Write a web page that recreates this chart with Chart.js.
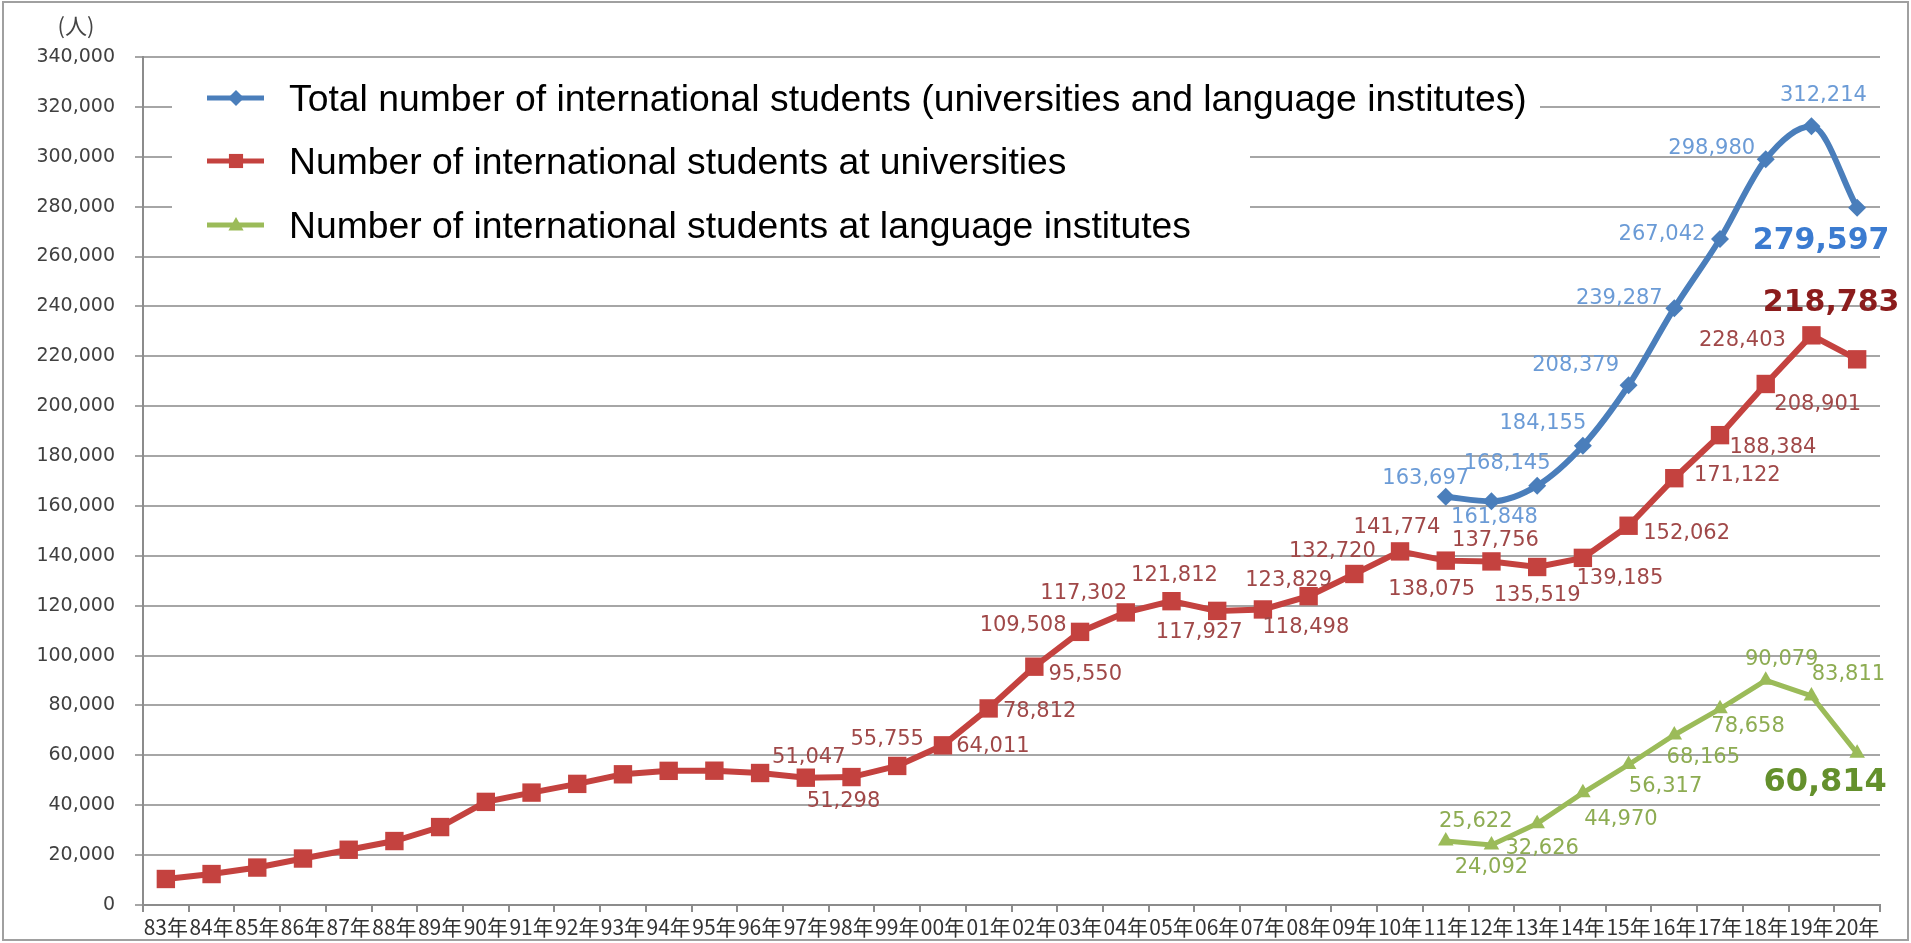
<!DOCTYPE html>
<html><head><meta charset="utf-8">
<script src="https://cdn.jsdelivr.net/npm/chart.js@4.4.0/dist/chart.umd.min.js"></script>
<style>html,body{margin:0;padding:0;background:#fff;overflow:hidden}#wrap{width:1911px;height:943px;position:relative}</style>
</head><body><div id="wrap"><canvas id="c"></canvas></div>
<script>
const categories = ['83年','84年','85年','86年','87年','88年','89年','90年','91年','92年','93年','94年','95年','96年','97年','98年','99年','00年','01年','02年','03年','04年','05年','06年','07年','08年','09年','10年','11年','12年','13年','14年','15年','16年','17年','18年','19年','20年'];
const universities = [10428,12410,15009,18631,22154,25643,31251,41347,45066,48561,52405,53787,53847,52921,51047,51298,55755,64011,78812,95550,109508,117302,121812,117927,118498,123829,132720,141774,138075,137756,135519,139185,152062,171122,188384,208901,228403,218783];
const totalStudents = [null,null,null,null,null,null,null,null,null,null,null,null,null,null,null,null,null,null,null,null,null,null,null,null,null,null,null,null,163697,161848,168145,184155,208379,239287,267042,298980,312214,279597];
const languageInst = [null,null,null,null,null,null,null,null,null,null,null,null,null,null,null,null,null,null,null,null,null,null,null,null,null,null,null,null,25622,24092,32626,44970,56317,68165,78658,90079,83811,60814];
const seriesNames = ['Total number of international students (universities and language institutes)','Number of international students at universities','Number of international students at language institutes'];
const yMin = 0, yMax = 340000, yStep = 20000;
const unitLabel = '(人)';

// label placement (style): offsets of label centre from point, per year index
const redLabelOff = {14:[3,-20],15:[-8,24],16:[-10,-26],17:[50,1],18:[51,3],19:[51,8],20:[-57,-6],21:[-42,-19],22:[3,-26],23:[-18,22],24:[43,18],25:[-20,-16],26:[-22,-22],27:[-3,-24],28:[-14,29],29:[4,-21],30:[0,29],31:[37,21],32:[58,8],33:[63,-3],34:[53,12],35:[52,21],36:[-69,5],37:[-26,-56]};
const blueLabelOff = {28:[-20,-18],29:[3,16],30:[-30,-22],31:[-40,-22],32:[-53,-20],33:[-55,-10],34:[-58,-4],35:[-54,-11],36:[12,-31],37:[-36,34]};
const greenLabelOff = {28:[30,-20],29:[0,23],30:[5,25],31:[38,27],32:[37,22],33:[29,23],34:[28,18],35:[16,-21],36:[37,-21],37:[-32,29]};

const BLUE='#4a7ebb', RED='#c4423f', GREEN='#9bbb59';
const styles = [
  {line:BLUE, style:'rectRot', r:9, lab:'#6b9bd6', bold:'#3b7bd0', off:blueLabelOff},
  {line:RED, style:'rect', r:13, lab:'#a04848', bold:'#8b1c1c', off:redLabelOff},
  {line:GREEN, style:'triangle', r:9, lab:'#8dac52', bold:'#64902c', off:greenLabelOff}
];

function fmt(v){return v.toLocaleString('en-US');}

function drawMarker(ctx, style, x, y, r, color){
  ctx.save(); ctx.fillStyle=color; ctx.beginPath();
  if(style==='rect'){const s=r*Math.SQRT1_2; ctx.rect(x-s,y-s,2*s,2*s);}
  else if(style==='rectRot'){ctx.moveTo(x,y-r);ctx.lineTo(x+r,y);ctx.lineTo(x,y+r);ctx.lineTo(x-r,y);ctx.closePath();}
  else {ctx.moveTo(x,y-r);ctx.lineTo(x+r*0.95,y+r*0.7);ctx.lineTo(x-r*0.95,y+r*0.7);ctx.closePath();}
  ctx.fill(); ctx.restore();
}

const legendPlugin = {
  id:'customLegend',
  beforeDatasetsDraw(chart){
    const ctx=chart.ctx; ctx.save();
    ctx.fillStyle='#ffffff';
    ctx.fillRect(172,76,1540-172,50);
    ctx.fillRect(172,126,1250-172,110);
    const rows=[98,161,225];
    chart.data.datasets.forEach((ds,i)=>{
      const y=rows[i], st=styles[i];
      ctx.strokeStyle=st.line; ctx.lineWidth=5; ctx.beginPath(); ctx.moveTo(207,y); ctx.lineTo(264,y); ctx.stroke();
      drawMarker(ctx, st.style, 236, y, st.style==='rect'?10:8, st.line);
      ctx.fillStyle='#000'; ctx.font='37.3px "Liberation Sans", Arial, sans-serif';
      ctx.textAlign='left'; ctx.textBaseline='alphabetic';
      ctx.fillText(ds.label, 289, y+13);
    });
    ctx.restore();
  }
};

const labelPlugin = {
  id:'valueLabels',
  afterDatasetsDraw(chart){
    const ctx=chart.ctx; ctx.save();
    ctx.textAlign='center'; ctx.textBaseline='middle';
    chart.data.datasets.forEach((ds,di)=>{
      const meta=chart.getDatasetMeta(di), st=styles[di];
      const last=ds.data.length-1;
      Object.keys(st.off).forEach(k=>{
        const i=+k, v=ds.data[i]; if(v==null) return;
        const el=meta.data[i]; const o=st.off[k];
        if(i===last){ctx.font='bold '+(di===2?32:30)+'px "DejaVu Sans", sans-serif'; ctx.fillStyle=st.bold;}
        else {ctx.font='21px "DejaVu Sans", sans-serif'; ctx.fillStyle=st.lab;}
        ctx.fillText(fmt(v), el.x+o[0], el.y+o[1]);
      });
    });
    ctx.restore();
  },
  afterDraw(chart){
    const ctx=chart.ctx; ctx.save();
    ctx.fillStyle='#444'; ctx.font='22px "Noto Sans CJK JP", sans-serif';
    ctx.textAlign='center'; ctx.textBaseline='middle';
    ctx.fillText(unitLabel, 76, 26);
    ctx.strokeStyle='#a0a0a0'; ctx.lineWidth=2;
    ctx.strokeRect(3,2,1905,938);
    ctx.restore();
  }
};

new Chart(document.getElementById('c'), {
  type:'line',
  data:{
    labels:categories,
    datasets:[
      {label:seriesNames[0], data:totalStudents, borderColor:BLUE, backgroundColor:BLUE, borderWidth:6, pointStyle:'rectRot', pointRadius:9, pointBorderWidth:0, cubicInterpolationMode:'monotone', spanGaps:false},
      {label:seriesNames[1], data:universities, borderColor:RED, backgroundColor:RED, borderWidth:6, pointStyle:'rect', pointRadius:13, pointBorderWidth:0, tension:0},
      {label:seriesNames[2], data:languageInst, borderColor:GREEN, backgroundColor:GREEN, borderWidth:5, pointStyle:'triangle', pointRadius:9, pointBorderWidth:0, tension:0}
    ]
  },
  options:{
    responsive:true, maintainAspectRatio:false, animation:false,
    layout:{padding:{left:0,right:31,top:57,bottom:0}},
    plugins:{legend:{display:false}, tooltip:{enabled:false}},
    scales:{
      x:{type:'category', offset:true,
        grid:{offset:true, drawOnChartArea:false, drawTicks:true, tickLength:7, color:'#8c8c8c', lineWidth:2},
        border:{display:true, color:'#8c8c8c', width:2},
        ticks:{autoSkip:false, maxRotation:0, minRotation:0, padding:2, color:'#333', font:{family:'"Noto Sans CJK JP"', size:21}},
        afterFit(s){s.height=38;}
      },
      y:{min:yMin, max:yMax,
        ticks:{stepSize:yStep, padding:20, color:'#404040', font:{family:'"DejaVu Sans"', size:19}, callback:v=>fmt(v)},
        grid:{color:'#a6a6a6', lineWidth:2, tickLength:8},
        border:{display:true, color:'#8c8c8c', width:2},
        afterFit(s){s.width=143;}
      }
    }
  },
  plugins:[legendPlugin, labelPlugin]
});
</script></body></html>
